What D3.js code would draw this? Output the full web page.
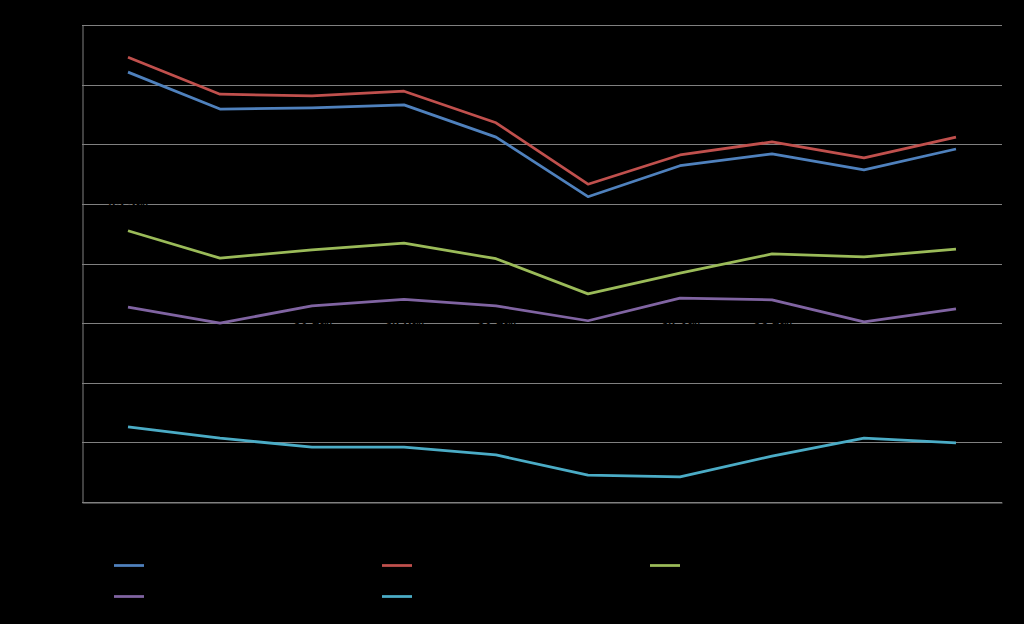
<!DOCTYPE html>
<html>
<head>
<meta charset="utf-8">
<script src="https://cdn.jsdelivr.net/npm/d3@7"></script>
<style>
  html, body { margin: 0; padding: 0; background: #000; }
  svg { display: block; }
  text { font-family: "Liberation Sans", Arial, sans-serif; }
</style>
</head>
<body>
<svg id="chart" width="1024" height="624"></svg>
<script>
const categories = ["2005", "2006", "2007", "2008", "2009", "2010", "2011", "2012", "2013", "2014"];
const seriesNames = ["Series 1", "Series 2", "Series 3", "Series 4", "Series 5"];
const seriesColors = ["#4F81BD", "#C0504D", "#9BBB59", "#8064A2", "#4BACC6"];
const series1 = [72.1, 65.9, 66.1, 66.6, 61.2, 51.2, 56.4, 58.4, 55.7, 59.2];
const series2 = [74.6, 68.4, 68.1, 68.9, 63.6, 53.3, 58.2, 60.4, 57.7, 61.2];
const series3 = [45.5, 40.9, 42.3, 43.4, 40.8, 34.9, 38.4, 41.6, 41.1, 42.4];
const series4 = [32.7, 30.0, 32.9, 34.0, 32.9, 30.4, 34.2, 33.9, 30.2, 32.4];
const series5 = [12.6, 10.7, 9.2, 9.2, 7.9, 4.5, 4.2, 7.7, 10.7, 9.9];
const yTicks = [0, 10, 20, 30, 40, 50, 60, 70, 80];
// labels (black text) drawn for some points
const labelIdx4 = [2, 3, 4, 6, 7];
const labelIdx3 = [0];

const allSeries = [series1, series2, series3, series4, series5];

const svg = d3.select("#chart");
svg.append("rect").attr("width", 1024).attr("height", 624).attr("fill", "#000");

const m = { left: 82, right: 1002, top: 25, bottom: 502 };
const x = d3.scaleBand().domain(categories).range([m.left, m.right]);
const y = d3.scaleLinear().domain([0, 80]).range([m.bottom, m.top]);

// gridlines
svg.append("g")
  .selectAll("line")
  .data(yTicks)
  .join("line")
  .attr("x1", m.left).attr("x2", m.right)
  .attr("y1", d => Math.round(y(d)) + 0.5).attr("y2", d => Math.round(y(d)) + 0.5)
  .attr("stroke", "#808080").attr("stroke-width", 1);

// y axis (labels black)
const yAxis = svg.append("g")
  .attr("transform", `translate(${m.left + 0.5},0)`)
  .call(d3.axisLeft(y).tickValues(yTicks).tickSize(0).tickPadding(8));
yAxis.select(".domain").attr("stroke", "#808080");
yAxis.selectAll("text").attr("fill", "#000").attr("font-size", 13);

// x axis
const xAxis = svg.append("g")
  .attr("transform", `translate(0,${Math.round(y(0)) + 0.5})`)
  .call(d3.axisBottom(x).tickSize(0).tickPadding(10));
xAxis.select(".domain").attr("stroke", "#808080");
xAxis.selectAll("text").attr("fill", "#000").attr("font-size", 13);

// lines
const line = d3.line()
  .x((d, i) => x(categories[i]) + x.bandwidth() / 2)
  .y(d => y(d));

svg.append("g")
  .selectAll("path")
  .data(allSeries)
  .join("path")
  .attr("d", d => line(d))
  .attr("fill", "none")
  .attr("stroke", (d, i) => seriesColors[i])
  .attr("stroke-width", 2.75)
  .attr("stroke-linejoin", "round");

// black data labels
svg.append("g")
  .selectAll("text")
  .data(labelIdx4)
  .join("text")
  .attr("x", i => x(categories[i]) + x.bandwidth() / 2)
  .attr("y", y(30) + 5)
  .attr("text-anchor", "middle")
  .attr("font-size", 14)
  .attr("font-weight", "bold")
  .attr("fill", "#000")
  .text(i => series4[i].toFixed(1) + "%");

svg.append("g")
  .selectAll("text")
  .data(labelIdx3)
  .join("text")
  .attr("x", i => x(categories[i]) + x.bandwidth() / 2)
  .attr("y", y(50) + 5)
  .attr("text-anchor", "middle")
  .attr("font-size", 14)
  .attr("font-weight", "bold")
  .attr("fill", "#000")
  .text(i => series3[i].toFixed(1) + "%");

// legend
const legendPos = [[114, 565], [382, 565], [650, 565], [114, 596], [382, 596]];
const lg = svg.append("g").selectAll("g")
  .data(seriesNames)
  .join("g")
  .attr("transform", (d, i) => `translate(${legendPos[i][0]},${legendPos[i][1]})`);
lg.append("line")
  .attr("x1", 0).attr("x2", 30).attr("y1", 0.5).attr("y2", 0.5)
  .attr("stroke", (d, i) => seriesColors[i]).attr("stroke-width", 2.75);
lg.append("text")
  .attr("x", 38).attr("y", 5)
  .attr("font-size", 13)
  .attr("fill", "#000")
  .text(d => d);
</script>
</body>
</html>
